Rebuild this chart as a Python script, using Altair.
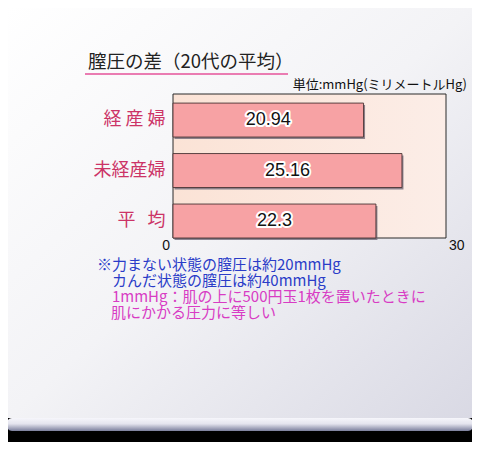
import altair as alt
import pandas as pd

# ---- data ----
categories = ["経 産 婦", "未経産婦", "平\u00a0\u00a0\u00a0均"]
values = [20.94, 25.16, 22.3]
value_labels = ["20.94", "25.16", "22.3"]
tick_values = [0, 30]
tick_labels = ["0", "30"]
title_text = "膣圧の差（20代の平均）"
unit_text = "単位:mmHg(ミリメートルHg)"
note_lines = [
    "※力まない状態の膣圧は約20mmHg",
    "カんだ状態の膣圧は約40mmHg",
    "1mmHg：肌の上に500円玉1枚を置いたときに",
    "肌にかかる圧力に等しい",
]
note_colors = ["#2a3cc8", "#2a3cc8", "#d83cc4", "#d83cc4"]

df = pd.DataFrame({"cat": categories, "val": values, "lab": value_labels,
                   "half": [v / 2 for v in values]})
ticks_df = pd.DataFrame({"val": tick_values, "lab": tick_labels})
one = pd.DataFrame({"a": [0]})

W, H = 273, 144
CJK = "Noto Sans CJK JP"
LAT = "Liberation Sans"

xscale = alt.Scale(domain=[0, 30], nice=False, zero=True)
yscale = alt.Scale(domain=categories, paddingInner=0.327, paddingOuter=0.09, align=1)

# ---- decorations ----
panel = alt.Chart(one).mark_rect(
    color=alt.LinearGradient(gradient="linear", x1=0, y1=0, x2=1, y2=1,
                             stops=[alt.GradientStop(offset=0, color="#ffffff"),
                                    alt.GradientStop(offset=0.5, color="#f3f3f6"),
                                    alt.GradientStop(offset=1, color="#d9d9e4")])
).encode(x=alt.value(-166), x2=alt.value(300), y=alt.value(-87), y2=alt.value(324))

rod = alt.Chart(one).mark_rect(
    cornerRadius=5,
    color=alt.LinearGradient(gradient="linear", x1=0, y1=0, x2=0, y2=1,
                             stops=[alt.GradientStop(offset=0, color="#f6f6fb"),
                                    alt.GradientStop(offset=0.45, color="#e4e4ee"),
                                    alt.GradientStop(offset=1, color="#7a7e9c")])
).encode(x=alt.value(-166), x2=alt.value(300), y=alt.value(324), y2=alt.value(337))

plotbg = alt.Chart(one).mark_rect(
    stroke="#2a2a2a", strokeWidth=1,
    color=alt.LinearGradient(gradient="linear", x1=0, y1=0, x2=1, y2=0,
                             stops=[alt.GradientStop(offset=0, color="#fbe3d6"),
                                    alt.GradientStop(offset=1, color="#fcede7")])
).encode(x=alt.value(0), x2=alt.value(W), y=alt.value(0), y2=alt.value(H))

title = alt.Chart(one).mark_text(
    text=title_text, font=CJK, fontSize=18.5, color="#222222", align="left", baseline="middle"
).encode(x=alt.value(-85), y=alt.value(-32))

underline = alt.Chart(one).mark_rule(color="#ea7cb2", strokeWidth=2).encode(
    x=alt.value(-88), x2=alt.value(115), y=alt.value(-20))

unit = alt.Chart(one).mark_text(
    text=unit_text, font=CJK, fontSize=13, color="#111111", align="right", baseline="middle"
).encode(x=alt.value(294), y=alt.value(-9))

# ---- bars ----
base = alt.Chart(df).encode(
    y=alt.Y("cat:N", scale=yscale, sort=categories,
            axis=alt.Axis(title=None, ticks=False, domain=False, labelPadding=8,
                          labelFont=CJK, labelFontSize=18, labelColor="#cc3366",
                          labelFontWeight="normal", zindex=2)),
)

shadow = base.mark_bar(color="#6a6070", opacity=0.75, xOffset=1.5, yOffset=2).encode(
    x=alt.X("val:Q", scale=xscale, axis=None))

bars = base.mark_bar(color="#f7a2a4", stroke="#4a3434", strokeWidth=0.9).encode(
    x=alt.X("val:Q", scale=xscale, axis=None))

halo = base.mark_text(font=LAT, fontSize=18, color="white", stroke="white",
                      strokeWidth=4, strokeJoin="round", baseline="middle").encode(
    x=alt.X("half:Q", scale=xscale, axis=None), text="lab:N")
vtext = base.mark_text(font=LAT, fontSize=18, color="#111111",
                       baseline="middle").encode(
    x=alt.X("half:Q", scale=xscale, axis=None), text="lab:N")

tick0 = alt.Chart(ticks_df.iloc[[0]]).mark_text(
    font=LAT, fontSize=14, color="#111111", align="right", baseline="middle", dx=-3
).encode(x=alt.X("val:Q", scale=xscale, axis=None), y=alt.value(152), text="lab:N")
tick30 = alt.Chart(ticks_df.iloc[[1]]).mark_text(
    font=LAT, fontSize=14, color="#111111", align="left", baseline="middle", dx=3
).encode(x=alt.X("val:Q", scale=xscale, axis=None), y=alt.value(152), text="lab:N")

notes = []
note_pos = [(-76, 171), (-61, 187), (-61, 203), (-62, 219)]
for line, col, (nx, ny) in zip(note_lines, note_colors, note_pos):
    notes.append(alt.Chart(one).mark_text(
        text=line, font=CJK, fontSize=15, color=col, align="left", baseline="middle"
    ).encode(x=alt.value(nx), y=alt.value(ny)))

chart = alt.layer(
    panel, rod, plotbg, title, underline, unit, shadow, bars, halo, vtext, tick0, tick30, *notes
).properties(
    width=W, height=H, background="#000000",
    autosize=alt.AutoSizeParams(type="none"),
    padding={"left": 165, "top": 86, "right": 26, "bottom": 204},
).configure_view(stroke=None)

chart.save("out.html", embed_options={"renderer": "svg", "actions": False})
